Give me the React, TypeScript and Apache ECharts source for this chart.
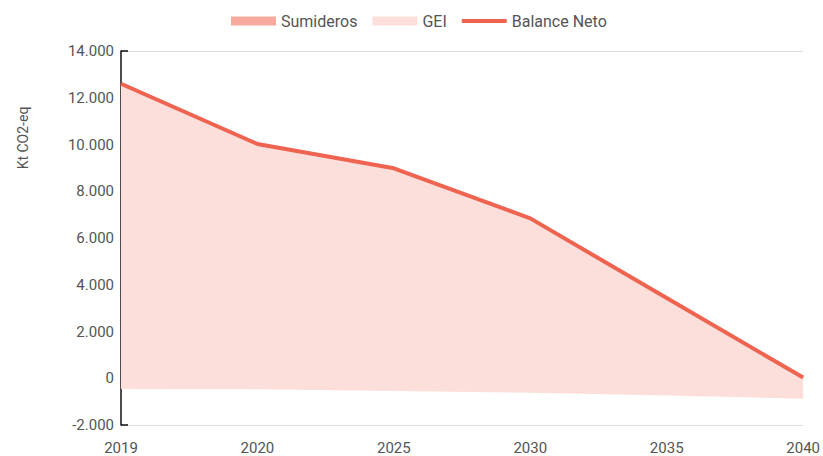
import React, { useEffect, useRef } from "react";
import * as echarts from "echarts";

const categories = ["2019", "2020", "2025", "2030", "2035", "2040"];
const balanceNeto = [12600, 10020, 8980, 6840, 3430, 30];
const sumideros = [-460, -470, -550, -620, -740, -875];
const gei = balanceNeto.map((b, i) => b - sumideros[i]);

export default function App() {
  const ref = useRef<HTMLDivElement>(null);
  useEffect(() => {
    if (!ref.current) return;
    const chart = echarts.init(ref.current, null, { renderer: "svg" });
    const font = "Roboto";
    chart.setOption({
      animation: false,
      textStyle: { fontFamily: font },
      legend: {
        top: 8,
        left: 226,
        itemWidth: 45,
        itemHeight: 9,
        itemGap: 15,
        textStyle: { color: "#555", fontSize: 16, fontFamily: font },
        data: [
          { name: "Sumideros", icon: "rect", itemStyle: { color: "#f7a99d" } },
          { name: "GEI", icon: "rect", itemStyle: { color: "#fde0dc" } },
          {
            name: "Balance Neto",
            icon: "path://M0,0M0,2.5H45V6.5H0ZM45,9",
            itemStyle: { color: "#ef6351" },
          },
        ],
      },
      grid: { left: 121, right: 19, top: 51, bottom: 31, containLabel: false },
      graphic: [
        {
          type: "text",
          x: 23,
          y: 138,
          rotation: Math.PI / 2,
          style: {
            text: "Kt CO2-eq",
            fill: "#555",
            font: "14px Roboto",
            align: "center",
            verticalAlign: "middle",
          },
        },
      ],
      xAxis: {
        type: "category",
        data: categories,
        boundaryGap: false,
        axisLine: { show: false },
        axisTick: { show: false },
        axisLabel: { color: "#555", fontSize: 15, margin: 15, fontFamily: font },
      },
      yAxis: {
        type: "value",
        min: -2000,
        max: 14000,
        interval: 2000,
        axisLine: { show: true, lineStyle: { color: "#111", width: 1.5 } },
        axisTick: {
          show: true,
          inside: true,
          length: 7,
          customValues: [-2000, 14000],
          lineStyle: { color: "#111", width: 1.5 },
        },
        splitLine: { show: true, lineStyle: { color: "#ddd", width: 1 } },
        axisLabel: {
          color: "#555",
          fontSize: 15,
          margin: 7,
          fontFamily: font,
          formatter: (v: number) => {
            const s = Math.abs(v).toString().replace(/\B(?=(\d{3})+(?!\d))/g, ".");
            return (v < 0 ? "-" : "") + s;
          },
        },
      },
      series: [
        {
          name: "Sumideros",
          type: "line",
          stack: "total",
          stackStrategy: "all",
          data: sumideros,
          symbol: "none",
          lineStyle: { width: 0 },
          itemStyle: { color: "#f7a99d" },
          z: 1,
        },
        {
          name: "GEI",
          type: "line",
          stack: "total",
          stackStrategy: "all",
          data: gei,
          symbol: "none",
          lineStyle: { width: 0 },
          itemStyle: { color: "#fde0dc" },
          areaStyle: { color: "#fcdfda", opacity: 1 },
          z: 1,
        },
        {
          name: "Balance Neto",
          type: "line",
          data: balanceNeto,
          symbol: "none",
          lineStyle: { width: 4, color: "#ef6351" },
          itemStyle: { color: "#ef6351" },
          z: 3,
        },
      ],
    });
    return () => chart.dispose();
  }, []);
  return <div ref={ref} style={{ width: 823, height: 456, position: "absolute", left: 0, top: 0 }} />;
}
